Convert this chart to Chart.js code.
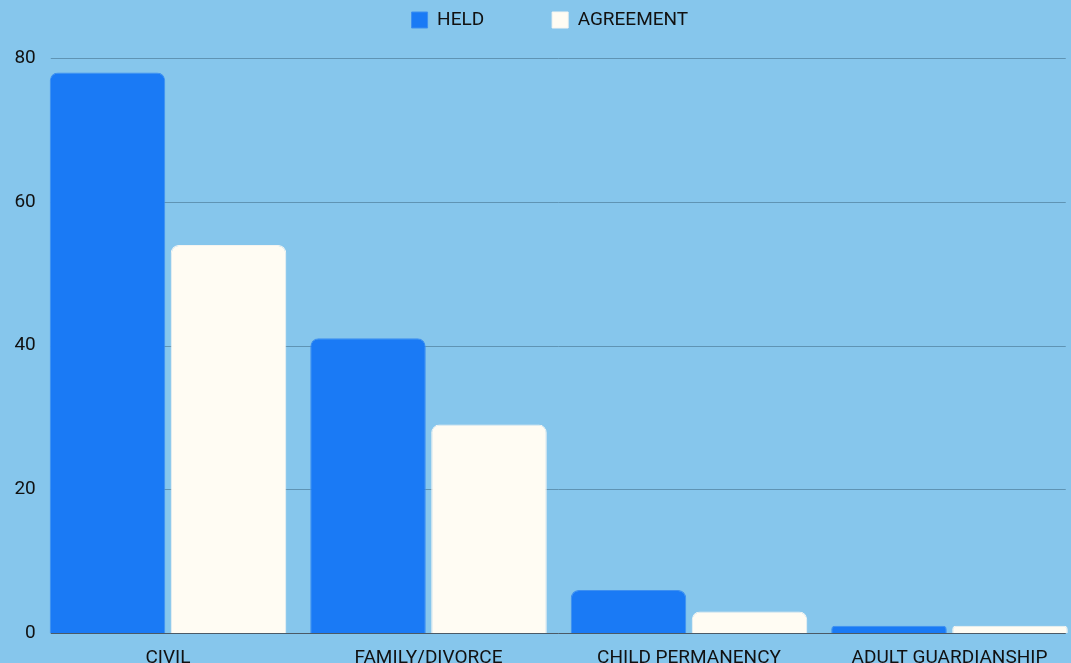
<!DOCTYPE html>
<html>
<head>
<meta charset="utf-8">
<script src="https://cdn.jsdelivr.net/npm/chart.js@4/dist/chart.umd.min.js"></script>
<style>
  html, body { margin: 0; padding: 0; background: #86c6ec; overflow: hidden; }
  #wrap { width: 1071px; height: 663px; overflow: hidden; }
</style>
</head>
<body>
<div id="wrap"><canvas id="myChart"></canvas></div>
<script>
// Chart data //
const categories = ["CIVIL", "FAMILY/DIVORCE", "CHILD PERMANENCY", "ADULT GUARDIANSHIP"];
const heldValues = [78, 41, 6, 1];
const agreementValues = [54, 29, 3, 1];
const yTicks = [0, 20, 40, 60, 80];

// Canvas is a bit wider than the window, the extra part is hidden
const canvas = document.getElementById("myChart");
canvas.width = 1090;
canvas.height = 663;

const fontFamily = "Roboto, 'Open Sans', sans-serif";
const legendPadding = 68;

// Legend height fix + shift, and grid lines drawn with y scale
const layoutPlugin = {
    id: "layoutFix",
    beforeInit(chart) {
        const fit = chart.legend.fit;
        chart.legend.fit = function () {
            fit.bind(chart.legend)();
            this.height = 115.5;
        };
    },
    afterUpdate(chart) {
        chart.legend.left += 10;
        chart.legend.right += 10;
    },
    beforeDatasetsDraw(chart) {
        const ctx = chart.ctx;
        const area = chart.chartArea;
        const y = chart.scales.y;
        const x0 = area.left + 13;
        const x1 = area.right - 14;
        ctx.save();
        yTicks.forEach(v => {
            const py = Math.round(y.getPixelForValue(v)) + 0.5;
            ctx.strokeStyle = v === 0 ? "#4b5a66" : "#5f94b4";
            ctx.lineWidth = 1;
            ctx.beginPath();
            ctx.moveTo(x0, py);
            ctx.lineTo(x1, py);
            ctx.stroke();
        });
        ctx.restore();
    }
};

const myChart = new Chart(canvas.getContext("2d"), {
    type: "bar",
    data: {
        labels: categories,
        datasets: [
            {
                label: "HELD",
                data: heldValues,
                backgroundColor: "#1a7af5",
                borderColor: "#3d8ff0",
                borderWidth: 1,
                borderRadius: 8,
                categoryPercentage: 0.929,
                barPercentage: 0.955
            },
            {
                label: "AGREEMENT",
                data: agreementValues,
                backgroundColor: "#fffcf3",
                borderColor: "#f4f4f0",
                borderWidth: 1,
                borderRadius: 8,
                categoryPercentage: 0.929,
                barPercentage: 0.955
            }
        ]
    },
    plugins: [layoutPlugin],
    options: {
        responsive: false,
        animation: false,
        layout: { padding: { top: -57.5, right: 10.25, left: 0, bottom: 0 } },
        plugins: {
            legend: {
                position: "top",
                labels: {
                    boxWidth: 16,
                    boxHeight: 16,
                    padding: legendPadding,
                    color: "#111",
                    font: { family: fontFamily, size: 19 }
                }
            },
            tooltip: { enabled: false }
        },
        scales: {
            x: {
                grid: { display: false },
                border: { display: false },
                ticks: {
                    color: "#111",
                    padding: 6,
                    font: { family: fontFamily, size: 19 }
                },
                afterFit: (scale) => { scale.height = 30; }
            },
            y: {
                min: 0,
                max: 80,
                afterBuildTicks: (scale) => {
                    scale.ticks = yTicks.map(v => ({ value: v }));
                },
                grid: { display: false, drawTicks: false },
                border: { display: false },
                ticks: {
                    color: "#111",
                    padding: 2,
                    font: { family: fontFamily, size: 19 }
                },
                afterFit: (scale) => { scale.width = 37.75; }
            }
        }
    }
});
</script>
</body>
</html>
